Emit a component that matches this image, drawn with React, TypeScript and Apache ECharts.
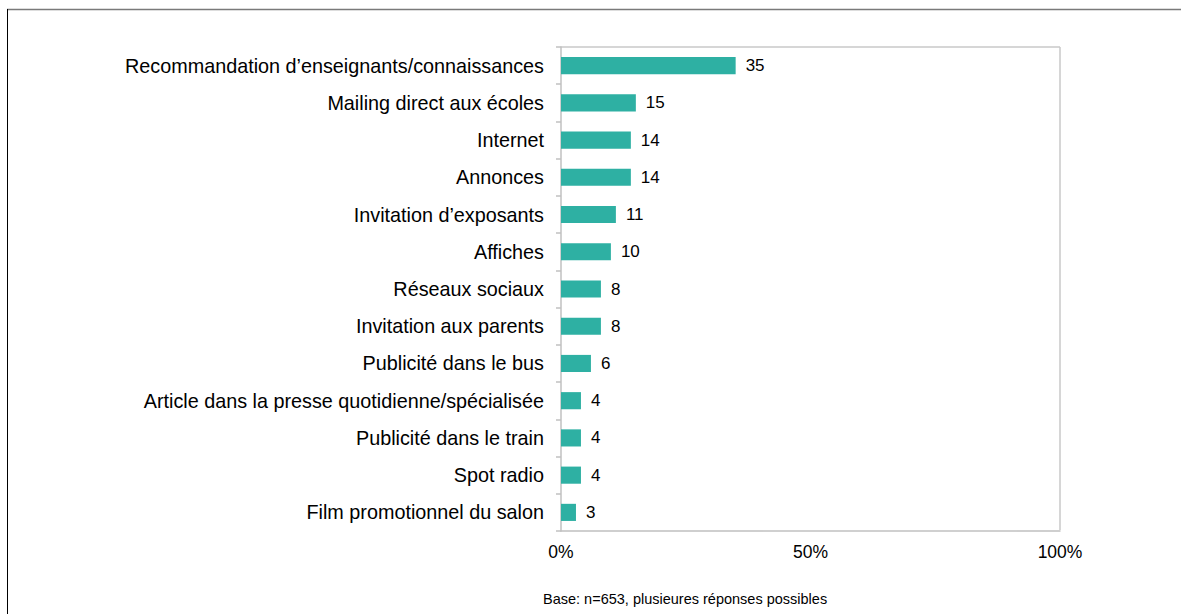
import React, { useEffect, useRef } from "react";
import * as echarts from "echarts";

const categories: string[] = [
  "Recommandation d’enseignants/connaissances",
  "Mailing direct aux écoles",
  "Internet",
  "Annonces",
  "Invitation d’exposants",
  "Affiches",
  "Réseaux sociaux",
  "Invitation aux parents",
  "Publicité dans le bus",
  "Article dans la presse quotidienne/spécialisée",
  "Publicité dans le train",
  "Spot radio",
  "Film promotionnel du salon",
];
const values: number[] = [35, 15, 14, 14, 11, 10, 8, 8, 6, 4, 4, 4, 3];
const xTicks: number[] = [0, 50, 100];
const footnote = "Base: n=653, plusieures réponses possibles";

const FONT = "Liberation Sans, Arial, sans-serif";

export default function App() {
  const ref = useRef<HTMLDivElement>(null);
  useEffect(() => {
    if (!ref.current) return;
    const chart = echarts.init(ref.current, undefined, { renderer: "svg" });
    chart.setOption({
      animation: false,
      backgroundColor: "#ffffff",
      grid: { left: 561, right: 121, top: 47, bottom: 83, containLabel: false },
      xAxis: {
        type: "value",
        min: 0,
        max: 100,
        interval: 50,
        axisLine: { show: true, lineStyle: { color: "#c0c0c0", width: 1.5 } },
        axisTick: { show: false },
        splitLine: { show: false },
        axisLabel: {
          formatter: (v: number) => (xTicks.includes(v) ? v + "%" : ""),
          color: "#000",
          fontFamily: FONT,
          fontSize: 17.5,
          margin: 12,
        },
      },
      yAxis: {
        type: "category",
        inverse: true,
        data: categories,
        axisLine: { show: true, lineStyle: { color: "#c0c0c0", width: 1.5 } },
        axisTick: { show: true, length: 5, lineStyle: { color: "#c0c0c0", width: 1.5 } },
        axisLabel: {
          color: "#000",
          fontFamily: FONT,
          fontSize: 19.8,
          margin: 17,
        },
      },
      graphic: [
        {
          type: "line",
          shape: { x1: 1060, y1: 47, x2: 1060, y2: 530 },
          style: { stroke: "#c8c8c8", lineWidth: 1.5 },
        },
        {
          type: "line",
          shape: { x1: 561, y1: 47, x2: 1060, y2: 47 },
          style: { stroke: "#c8c8c8", lineWidth: 1.5 },
        },
        {
          type: "line",
          shape: { x1: 7, y1: 9.5, x2: 1181, y2: 9.5 },
          style: { stroke: "#7a7a7a", lineWidth: 1.5 },
        },
        {
          type: "line",
          shape: { x1: 7.5, y1: 9, x2: 7.5, y2: 614 },
          style: { stroke: "#000000", lineWidth: 1 },
        },
        {
          type: "text",
          x: 543,
          y: 599,
          style: {
            text: footnote,
            fontFamily: FONT,
            fontSize: 14.5,
            fill: "#000",
            verticalAlign: "middle",
          },
        },
      ],
      series: [
        {
          type: "bar",
          data: values,
          barCategoryGap: "54%",
          itemStyle: { color: "#2eb0a3" },
          label: {
            show: true,
            position: "right",
            distance: 10,
            color: "#000",
            fontFamily: FONT,
            fontSize: 17,
          },
        },
      ],
    });
    return () => chart.dispose();
  }, []);
  return (
    <div
      ref={ref}
      style={{ position: "fixed", left: 0, top: 0, width: 1181, height: 614 }}
    />
  );
}
